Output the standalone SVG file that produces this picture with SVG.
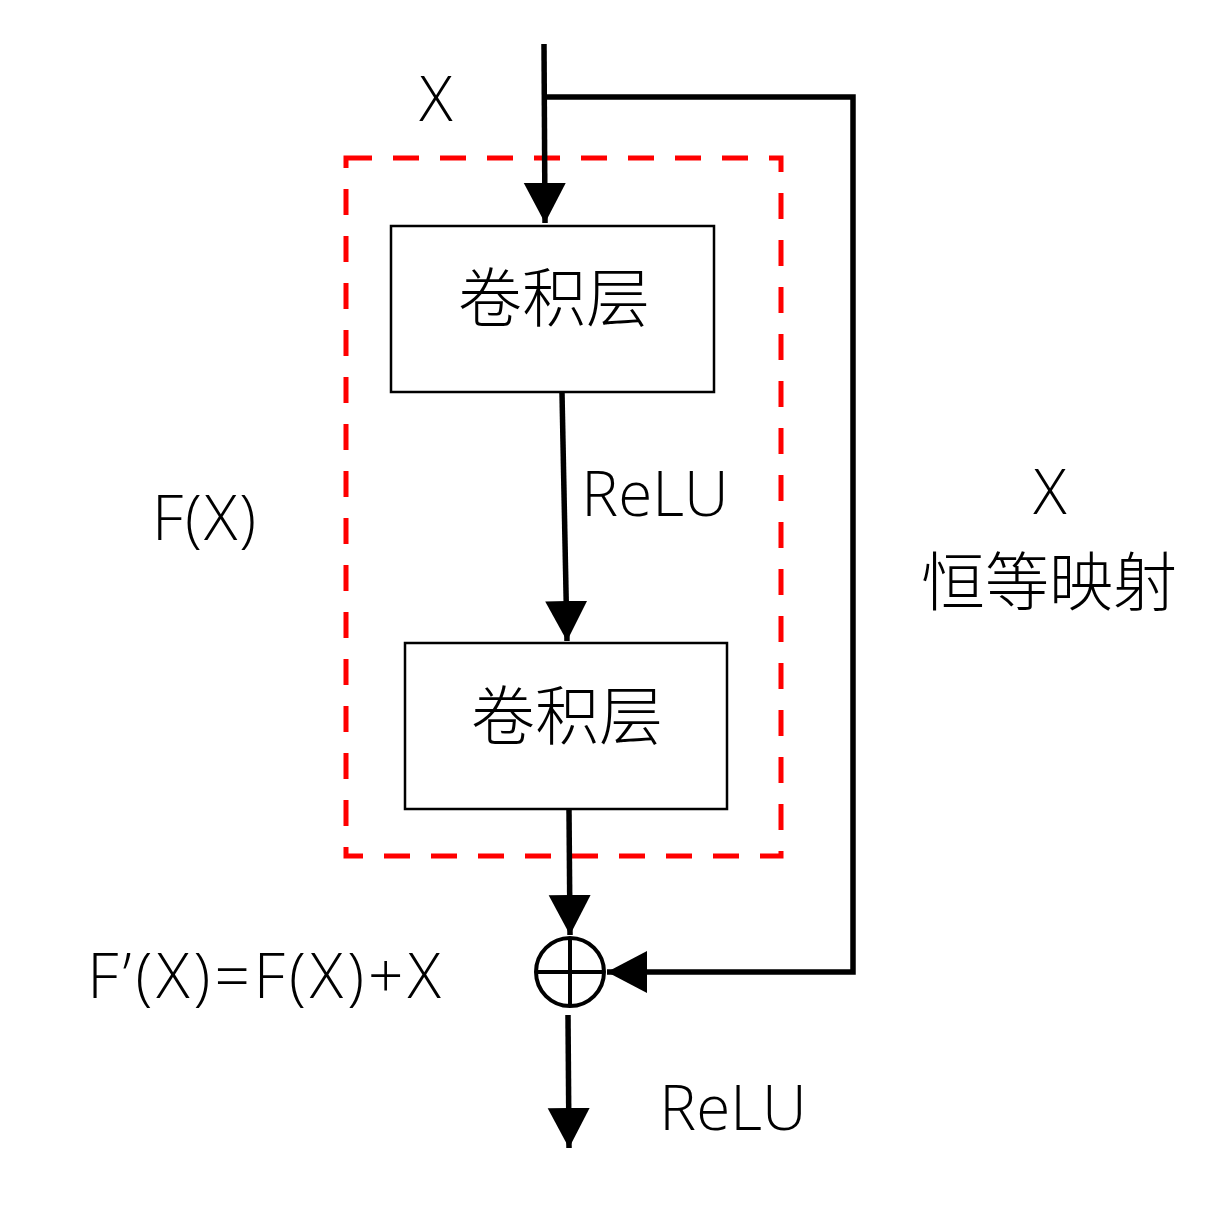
<svg xmlns="http://www.w3.org/2000/svg" width="1230" height="1223" viewBox="0 0 1230 1223">
<style>
.box{fill:#fff;stroke:#000;stroke-width:2.5}
.ln{fill:none;stroke:#000;stroke-width:5.5}
.t{font-family:"Noto Sans CJK SC","Noto Sans",sans-serif;fill:#000;font-size:64px;text-anchor:middle;font-weight:300}
.l{font-family:"Open Sans","Noto Sans",sans-serif;fill:#000;font-size:62px;text-anchor:middle;font-weight:300}
</style>
<defs>
<marker id="ah" markerUnits="userSpaceOnUse" markerWidth="42" markerHeight="44" refX="40" refY="21" orient="auto" viewBox="0 0 42 44">
<path d="M0,0 L40,21 L0,42 Z" fill="#000"/>
</marker>
</defs>
<rect width="1230" height="1223" fill="#fff"/>
<rect x="346" y="158" width="435" height="698" fill="none" stroke="#ff0000" stroke-width="5" stroke-dasharray="26,21"/>
<g id="connectors">
<path class="ln" d="M544,44 L545,223" marker-end="url(#ah)"/>
<path class="ln" d="M545,97 L853,97 L853,972 L607,972" marker-end="url(#ah)"/>
<path class="ln" d="M562,393 L567,641" marker-end="url(#ah)"/>
<path class="ln" d="M569,810 L570,935" marker-end="url(#ah)"/>
<path class="ln" d="M568,1015 L569,1148" marker-end="url(#ah)"/>
</g>
<g id="conv1">
<rect class="box" x="391" y="226" width="323" height="166"/>
<text class="t" x="554" y="321">卷积层</text>
</g>
<g id="conv2">
<rect class="box" x="405" y="643" width="322" height="166"/>
<text class="t" x="567" y="739">卷积层</text>
</g>
<g id="add">
<circle cx="570" cy="972" r="34" fill="#fff" stroke="#000" stroke-width="4"/>
<path d="M536,972 L604,972 M570,938 L570,1006" stroke="#000" stroke-width="4"/>
</g>
<g id="labels">
<text class="l" x="436" y="121">X</text>
<text class="l" x="655" y="516">ReLU</text>
<text class="l" x="205" y="540" letter-spacing="2">F(X)</text>
<text class="l" x="1050" y="514">X</text>
<text class="t" x="1049" y="605" font-size="65">恒等映射</text>
<text class="l" x="266" y="998" letter-spacing="4">F’(X)=F(X)+X</text>
<text class="l" x="733" y="1130">ReLU</text>
</g>
</svg>
